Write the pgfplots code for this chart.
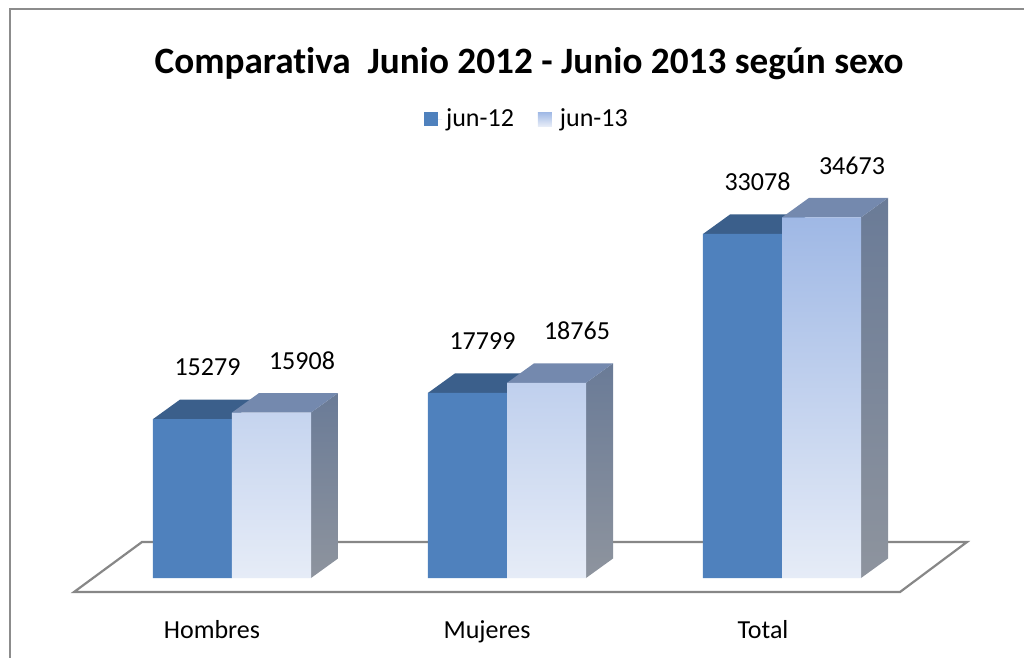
\documentclass[border=0pt]{standalone}
\usepackage{fontspec}
\setmainfont{Carlito}[Ligatures=NoCommon]
\usepackage{pgfplots}
\pgfplotsset{compat=1.18}

\definecolor{frontA}{HTML}{4F81BD}
\definecolor{topA}{HTML}{3B5F8B}
\definecolor{frontBt}{HTML}{9FB8E5}
\definecolor{frontBb}{HTML}{E6ECF7}
\definecolor{topB}{HTML}{7489AE}
\definecolor{sideBt}{HTML}{6A7B97}
\definecolor{sideBb}{HTML}{8E949E}
\definecolor{floorgray}{HTML}{878787}
\definecolor{framegray}{HTML}{8C8C8C}
\newcommand\lbl{\fontsize{13}{15.6}\selectfont}

\begin{document}
\begin{tikzpicture}
\begin{axis}[
    at={(0pt,0pt)}, anchor=north west,
    scale only axis, width=512pt, height=329pt,
    xmin=-0.84364, xmax=2.88, ymin=-7692, ymax=55577,
    enlargelimits=false, clip=false,
    axis x line=middle, axis y line=none,
    x axis line style={draw=none},
    major tick length=0pt, ytick=\empty,
    xtick={-0.0727,0.9273,1.9309},
    xticklabels={Hombres,Mujeres,Total},
    xticklabel style={anchor=base, yshift=-30pt, font=\lbl},
    /pgf/number format/assume math mode=true,
    /pgf/number format/1000 sep={},
    legend columns=2,
    legend style={at={(0.5156,0.8191)}, anchor=center, draw=none, fill=none,
        font=\lbl, /tikz/every even column/.append style={column sep=10pt}},
]
% suelo
\addplot[fill=white, draw=floorgray, line width=1.1pt, forget plot]
    coordinates {(-0.5745,-1346) (2.4291,-1346) (2.6727,3462) (-0.3273,3462)} -- cycle;

% jun-12: caras superiores
\addplot[fill=topA, draw=none, forget plot]
    coordinates {(-0.2873,15279) (0,15279) (0.0982,17154) (-0.1891,17154)} -- cycle;
\addplot[fill=topA, draw=none, forget plot]
    coordinates {(0.7127,17799) (1,17799) (1.0982,19674) (0.8109,19674)} -- cycle;
\addplot[fill=topA, draw=none, forget plot]
    coordinates {(1.7127,33078) (2,33078) (2.0982,34953) (1.8109,34953)} -- cycle;

% jun-12: frentes
\addplot[ybar, bar width=0.2873, bar shift=-0.14364, fill=frontA, draw=none,
    nodes near coords,
    every node near coord/.append style={anchor=center, xshift=-12.25pt, yshift=26pt,
        font=\lbl, text=black},
    legend image code/.code={\fill[frontA] (0pt,-3.5pt) rectangle (7pt,3.5pt); \path (0pt,0pt) -- (9pt,0pt);}]
    coordinates {(0,15279) (1,17799) (2,33078)};
\addlegendentry{jun-12}

% jun-13: caras laterales
\addplot[top color=sideBt, bottom color=sideBb, draw=none, forget plot]
    coordinates {(0.2873,0) (0.2873,15908) (0.3855,17783) (0.3855,1875)} -- cycle;
\addplot[top color=sideBt, bottom color=sideBb, draw=none, forget plot]
    coordinates {(1.2873,0) (1.2873,18765) (1.3855,20640) (1.3855,1875)} -- cycle;
\addplot[top color=sideBt, bottom color=sideBb, draw=none, forget plot]
    coordinates {(2.2873,0) (2.2873,34673) (2.3855,36548) (2.3855,1875)} -- cycle;

% jun-13: caras superiores
\addplot[fill=topB, draw=none, forget plot]
    coordinates {(0,15908) (0.2873,15908) (0.3855,17783) (0.0982,17783)} -- cycle;
\addplot[fill=topB, draw=none, forget plot]
    coordinates {(1,18765) (1.2873,18765) (1.3855,20640) (1.0982,20640)} -- cycle;
\addplot[fill=topB, draw=none, forget plot]
    coordinates {(2,34673) (2.2873,34673) (2.3855,36548) (2.0982,36548)} -- cycle;

% jun-13: frentes
\addplot[ybar, bar width=0.2873, bar shift=0.14364, top color=frontBt, bottom color=frontBb, draw=none,
    nodes near coords,
    every node near coord/.append style={anchor=center, xshift=35pt, yshift=26pt,
        font=\lbl, text=black},
    legend image code/.code={\shade[top color=frontBt, bottom color=frontBb] (0pt,-3.5pt) rectangle (7pt,3.5pt); \path (0pt,0pt) -- (9pt,0pt);}]
    coordinates {(0,15908) (1,18765) (2,34673)};
\addlegendentry{jun-13}
\end{axis}

\begin{scope}[x=0.5pt, y=-0.5pt]
  \draw[framegray, line width=1pt] (9.5,658) -- (9.5,9.5) -- (1024,9.5);
  \node[anchor=base, font=\bfseries\fontsize{18.6}{22}\selectfont] at (529,74)
    {Comparativa\ \ Junio 2012 - Junio 2013 según sexo};
  \pgfresetboundingbox
  \path[use as bounding box] (0,0) rectangle (1024,658);
\end{scope}
\end{tikzpicture}
\end{document}
